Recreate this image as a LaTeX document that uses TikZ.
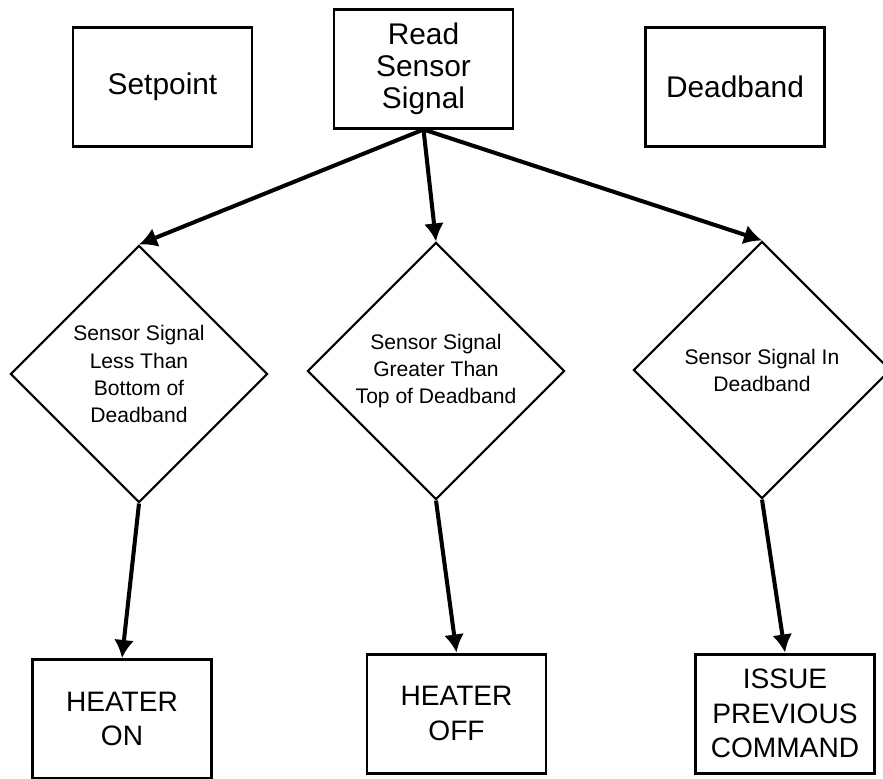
\documentclass[tikz,border=0pt]{standalone}
\usepackage{fontspec}
\setmainfont{Liberation Sans}
\usetikzlibrary{shapes.geometric,arrows.meta}

\begin{document}
\begin{tikzpicture}[>={Latex[length=1.8mm,width=2mm]},
  block/.style={draw, line width=0.85pt, minimum width=1.79cm, minimum height=1.19cm,
    inner sep=0pt, align=center, font=\fontsize{8.5}{9.1}\selectfont},
  result/.style={block, font=\fontsize{8}{9.8}\selectfont},
  decision/.style={diamond, draw, line width=0.6pt, minimum width=2.57cm,
    minimum height=2.57cm, inner sep=0pt, align=center, font=\fontsize{6}{7.7}\selectfont},
  flow/.style={->, line width=1.15pt}]
  \useasboundingbox (0,0) rectangle (8.83,7.78);
  % inputs
  \node[block] (setpoint) at (1.625,6.91) {Setpoint};
  \node[block] (read) at (4.235,7.095) {Read\\Sensor\\Signal};
  \node[block] (deadband) at (7.35,6.91) {Deadband};
  % tests
  \node[decision] (lessthan) at (1.39,4.04) {Sensor Signal\\Less Than\\Bottom of\\Deadband};
  \node[decision] (greaterthan) at (4.36,4.07) {Sensor Signal\\Greater Than\\Top of Deadband};
  \node[decision] (indeadband) at (7.62,4.08) {Sensor Signal In\\Deadband};
  % commands
  \node[result] (heateron) at (1.22,0.59) {HEATER\\ON};
  \node[result] (heateroff) at (4.565,0.645) {HEATER\\OFF};
  \node[result] (previous) at (7.85,0.645) {ISSUE\\PREVIOUS\\COMMAND};
  \draw[flow] (read.south) -- (lessthan.north);
  \draw[flow] (read.south) -- (greaterthan.north);
  \draw[flow] (read.south) -- (indeadband.north);
  \draw[flow] (lessthan.south) -- (heateron.north);
  \draw[flow] (greaterthan.south) -- (heateroff.north);
  \draw[flow] (indeadband.south) -- (previous.north);
\end{tikzpicture}
\end{document}
